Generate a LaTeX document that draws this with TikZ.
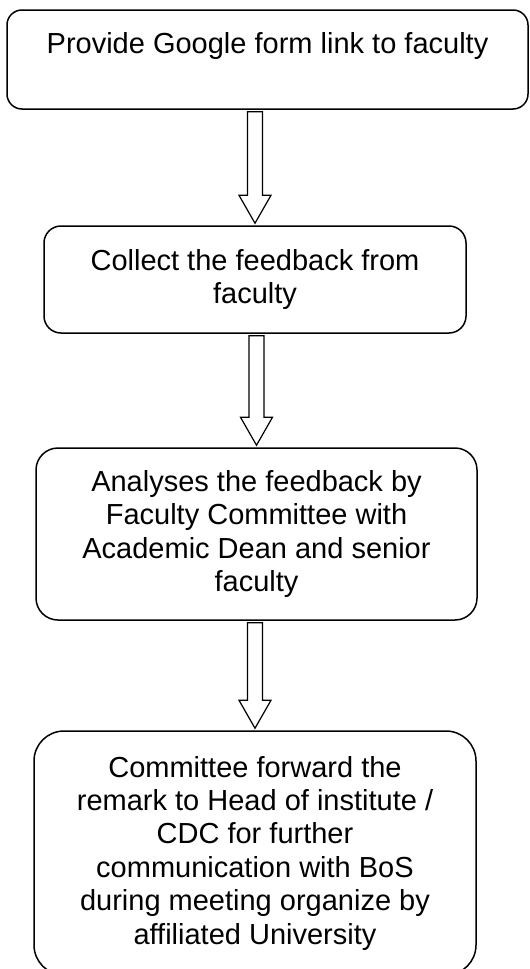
\documentclass[tikz,border=0pt]{standalone}
\usepackage{fontspec}
\setmainfont{Liberation Sans}
\usetikzlibrary{calc}
\tikzset{
  stepbox/.style={draw, line width=1.5pt, rounded corners=#1, align=center,
    inner sep=0pt, font=\fontsize{29}{33.4}\selectfont},
  stepbox/.default=15pt,
  flowarrow/.style={line width=1.2pt, line join=miter}
}
% hollow block arrow from the bottom of #1 to the top of #2
\newcommand\blockarrow[2]{%
  \coordinate (s) at ($(#2.north |- #1.south)+(0,2)$);
  \coordinate (t) at ($(#2.north)+(0,-2)$);
  \draw[flowarrow] ($(s)+(-7.5,0)$) -- ($(t)+(-7.5,-28)$) -- ($(t)+(-16,-28)$)
    -- (t) -- ($(t)+(16,-28)$) -- ($(t)+(7.5,-28)$) -- ($(s)+(7.5,0)$) -- cycle;
}
\begin{document}
\begin{tikzpicture}[x=1pt,y=-1pt]
\useasboundingbox (0,0) rectangle (530,969);
\node[stepbox=15pt, minimum width=521pt, minimum height=99pt] (provide) at (267.5,59.5)
  {Provide Google form link to faculty\\ \mbox{}};
\node[stepbox=17pt, minimum width=422pt, minimum height=107pt] (collect) at (255,279.5)
  {Collect the feedback from\\ faculty};
\node[stepbox=22pt, minimum width=441pt, minimum height=172pt] (analyse) at (256.5,534)
  {Analyses the feedback by\\ Faculty Committee with\\ Academic Dean and senior\\ faculty};
\node[stepbox=30pt, minimum width=442pt, minimum height=244pt] (forward) at (255,853)
  {Committee forward the\\ remark to Head of institute /\\ CDC for further\\
   communication with BoS\\ during meeting organize by\\ affiliated University};
\blockarrow{provide}{collect}
\blockarrow{collect}{analyse}
\blockarrow{analyse}{forward}
\end{tikzpicture}
\end{document}
